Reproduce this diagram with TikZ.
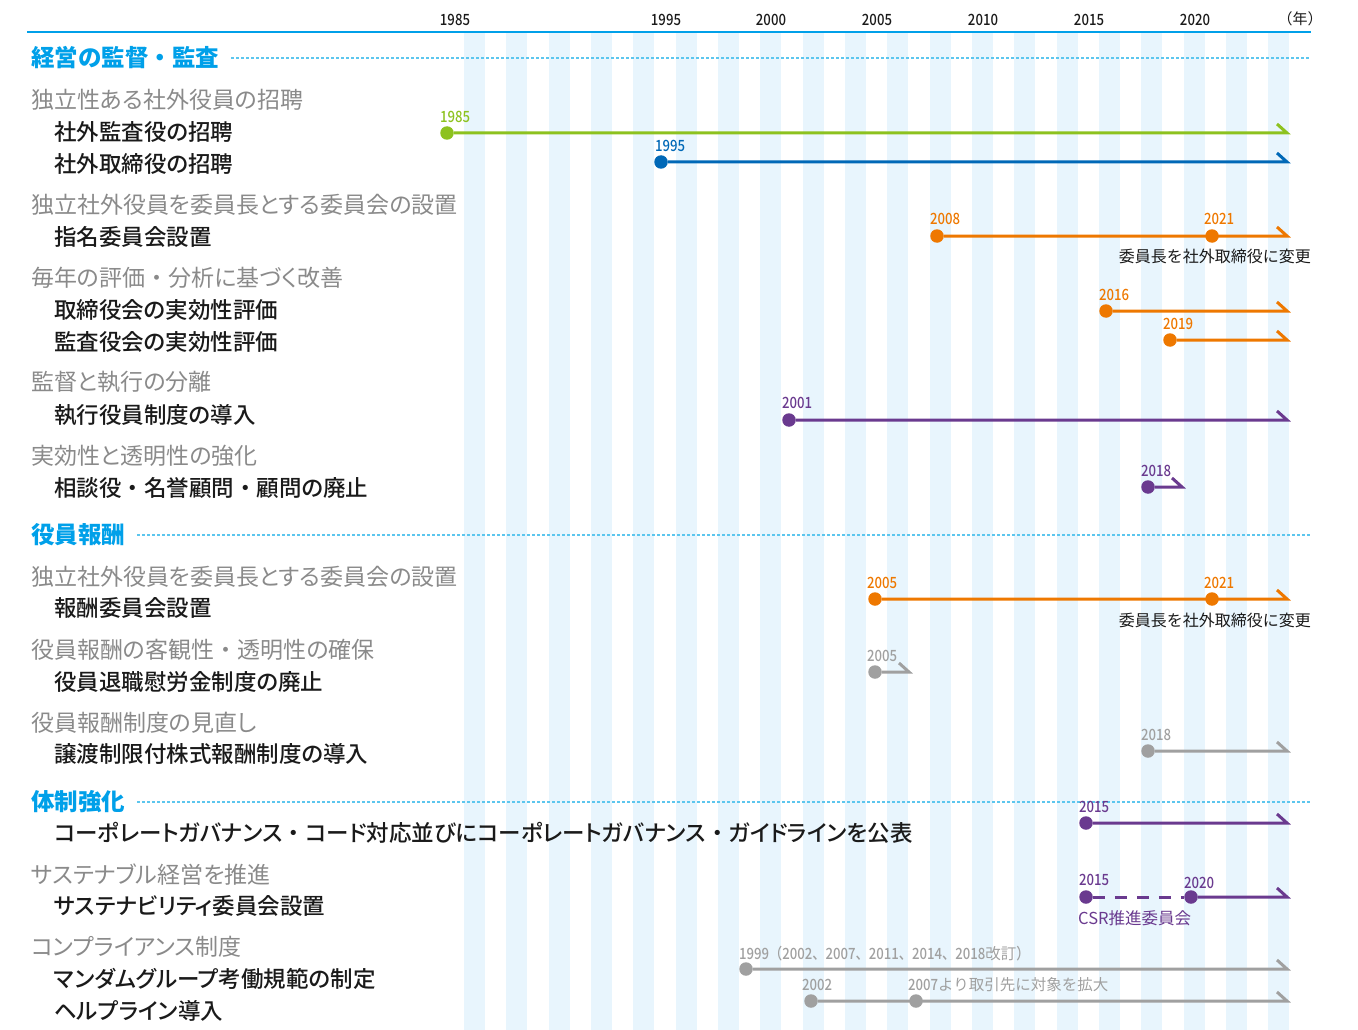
\documentclass[tikz,border=0pt]{standalone}
\usepackage{fontspec}
\setmainfont{Noto Sans CJK JP}
\newfontfamily\numfont[FakeStretch=0.85]{Noto Sans CJK JP Medium}
\newfontfamily\medfont[RawFeature=+palt]{Noto Sans CJK JP Medium}
\newfontfamily\medfull{Noto Sans CJK JP Medium}
\newfontfamily\catfont[RawFeature=+palt]{Noto Sans CJK JP}
\newfontfamily\catfull{Noto Sans CJK JP}
\newcommand\imid{{\medfull ・}}
\newcommand\gmid{{\catfull ・}}
\definecolor{axisblue}{HTML}{00A0E9}
\definecolor{secdot}{HTML}{5CC6EE}
\definecolor{stripe}{HTML}{E8F5FD}
\definecolor{catgray}{HTML}{8A8A8A}
\definecolor{itemblack}{HTML}{1A1A1A}
\definecolor{tlgreen}{HTML}{8DC21F}
\definecolor{tlblue}{HTML}{0068B7}
\definecolor{tlorange}{HTML}{EE7800}
\definecolor{tlpurple}{HTML}{6A3A8F}
\definecolor{tlgray}{HTML}{A0A0A0}
\begin{document}
\begin{tikzpicture}[x=1pt,y=-1pt,
  tl/.style={line width=3pt, line join=miter, line cap=butt, draw=#1},
  dot/.style={circle, fill=#1, minimum size=13.5pt, inner sep=0pt, draw=none},
  yl/.style={font=\numfont\fontsize{15.5}{15.5}\selectfont, anchor=west, inner sep=0pt, text=#1},
  axlab/.style={font=\numfont\fontsize{15.5}{15.5}\selectfont, inner sep=0pt, text=itemblack},
  cat/.style={anchor=west, inner sep=0pt, text=catgray, font=\catfont\fontsize{23}{23}\selectfont},
  item/.style={anchor=west, inner sep=0pt, text=itemblack, font=\medfont\fontsize{22.5}{22.5}\selectfont},
  head/.style={anchor=west, inner sep=0pt, text=axisblue, font=\bfseries\fontsize{23.5}{23.5}\selectfont},
  note/.style={inner sep=0pt, text=itemblack, font=\fontsize{16}{16}\selectfont},
  secline/.style={draw=secdot, line width=1.5pt, dash pattern=on 2.5pt off 2.5pt}
]
\useasboundingbox (0,0) rectangle (1358,1030);
% stripes
\foreach \k in {0,...,19} \fill[stripe] ({464+\k*42.33},33) rectangle ++(21,997);
% axis
\coordinate (axL) at (27,32);
\coordinate (axR) at (1311,32);
\draw[axisblue, line width=2.5pt] (axL) -- (axR);
\node[axlab] (a1985) at (455,20) {1985};
\node[axlab] (a1995) at (666,20) {1995};
\node[axlab] (a2000) at (771,20) {2000};
\node[axlab] (a2005) at (877,20) {2005};
\node[axlab] (a2010) at (983,20) {2010};
\node[axlab] (a2015) at (1089,20) {2015};
\node[axlab] (a2020) at (1195,20) {2020};
\node[note, font=\fontsize{15}{15}\selectfont] (anen) at (1300,19) {（年）};

% ===== section 1
\node[head] (h1) at (31,58) {経営の監督・監査};
\coordinate (h1e) at (1311,58);
\draw[secline] ([xshift=12pt]h1.east) -- (h1e);

\node[cat] (c11) at (31,100) {独立性ある社外役員の招聘};
\node[item] (i111) at (54,132) {社外監査役の招聘};
\node[item] (i112) at (54,164) {社外取締役の招聘};
\node[cat] (c12) at (31,205) {独立社外役員を委員長とする委員会の設置};
\node[item] (i121) at (54,237) {指名委員会設置};
\node[cat] (c13) at (31,278) {毎年の評価\gmid 分析に基づく改善};
\node[item] (i131) at (54,310) {取締役会の実効性評価};
\node[item] (i132) at (54,342) {監査役会の実効性評価};
\node[cat] (c14) at (31,382) {監督と執行の分離};
\node[item] (i141) at (54,415) {執行役員制度の導入};
\node[cat] (c15) at (31,456) {実効性と透明性の強化};
\node[item] (i151) at (54,488) {相談役\imid 名誉顧問\imid 顧問の廃止};

% timelines section 1
\node[dot=tlgreen] (d1) at (447,133) {};
\coordinate (e1) at (1287,133);
\draw[tl=tlgreen] (d1) -- (e1) -- ++(-10,-9);
\node[yl=tlgreen] (l1) at (440,117) {1985};

\node[dot=tlblue] (d2) at (661,162) {};
\coordinate (e2) at (1287,162);
\draw[tl=tlblue] (d2) -- (e2) -- ++(-10,-9);
\node[yl=tlblue] (l2) at (655,146) {1995};

\node[dot=tlorange] (d3) at (937,236) {};
\coordinate (e3) at (1287,236);
\draw[tl=tlorange] (d3) -- (e3) -- ++(-10,-9);
\node[dot=tlorange] (d3b) at (1212,236) {};
\node[yl=tlorange] (l3) at (930,219) {2008};
\node[yl=tlorange] (l3b) at (1204,219) {2021};
\node[note, anchor=east] (n3) at (1311,256) {委員長を社外取締役に変更};

\node[dot=tlorange] (d4) at (1106,311) {};
\coordinate (e4) at (1287,311);
\draw[tl=tlorange] (d4) -- (e4) -- ++(-10,-9);
\node[yl=tlorange] (l4) at (1099,295) {2016};

\node[dot=tlorange] (d5) at (1170,340) {};
\coordinate (e5) at (1287,340);
\draw[tl=tlorange] (d5) -- (e5) -- ++(-10,-9);
\node[yl=tlorange] (l5) at (1163,324) {2019};

\node[dot=tlpurple] (d6) at (789,420) {};
\coordinate (e6) at (1287,420);
\draw[tl=tlpurple] (d6) -- (e6) -- ++(-10,-9);
\node[yl=tlpurple] (l6) at (782,403) {2001};

\node[dot=tlpurple] (d7) at (1148,487) {};
\coordinate (e7) at (1182,487);
\draw[tl=tlpurple] (d7) -- (e7) -- ++(-10,-9);
\node[yl=tlpurple] (l7) at (1141,471) {2018};

% ===== section 2
\node[head] (h2) at (31,535) {役員報酬};
\coordinate (h2e) at (1311,535);
\draw[secline] ([xshift=12pt]h2.east) -- (h2e);

\node[cat] (c21) at (31,577) {独立社外役員を委員長とする委員会の設置};
\node[item] (i211) at (54,608) {報酬委員会設置};
\node[cat] (c22) at (31,650) {役員報酬の客観性\gmid 透明性の確保};
\node[item] (i221) at (54,682) {役員退職慰労金制度の廃止};
\node[cat] (c23) at (31,723) {役員報酬制度の見直し};
\node[item] (i231) at (54,754) {譲渡制限付株式報酬制度の導入};

\node[dot=tlorange] (d8) at (875,599) {};
\coordinate (e8) at (1287,599);
\draw[tl=tlorange] (d8) -- (e8) -- ++(-10,-9);
\node[dot=tlorange] (d8b) at (1212,599) {};
\node[yl=tlorange] (l8) at (867,583) {2005};
\node[yl=tlorange] (l8b) at (1204,583) {2021};
\node[note, anchor=east] (n8) at (1311,620) {委員長を社外取締役に変更};

\node[dot=tlgray] (d9) at (875,672) {};
\coordinate (e9) at (909,672);
\draw[tl=tlgray] (d9) -- (e9) -- ++(-10,-9);
\node[yl=tlgray] (l9) at (867,656) {2005};

\node[dot=tlgray] (d10) at (1148,751) {};
\coordinate (e10) at (1287,751);
\draw[tl=tlgray] (d10) -- (e10) -- ++(-10,-9);
\node[yl=tlgray] (l10) at (1141,735) {2018};

% ===== section 3
\node[head] (h3) at (31,802) {体制強化};
\coordinate (h3e) at (1311,802);
\draw[secline] ([xshift=12pt]h3.east) -- (h3e);

\node[item] (i301) at (54,833) {コーポレートガバナンス\imid コード対応並びにコーポレートガバナンス\imid ガイドラインを公表};
\node[cat] (c31) at (31,875) {サステナブル経営を推進};
\node[item] (i311) at (54,906) {サステナビリティ委員会設置};
\node[cat] (c32) at (31,947) {コンプライアンス制度};
\node[item] (i321) at (54,979) {マンダムグループ考働規範の制定};
\node[item] (i322) at (54,1011) {ヘルプライン導入};

\node[dot=tlpurple] (d11) at (1086,823) {};
\coordinate (e11) at (1287,823);
\draw[tl=tlpurple] (d11) -- (e11) -- ++(-10,-9);
\node[yl=tlpurple] (l11) at (1079,807) {2015};

\node[dot=tlpurple] (d12) at (1086,897) {};
\node[dot=tlpurple] (d12b) at (1191,897) {};
\coordinate (e12) at (1287,897);
\draw[tl=tlpurple, dash pattern=on 12pt off 10pt] (d12) -- (d12b);
\draw[tl=tlpurple] (d12b) -- (e12) -- ++(-10,-9);
\node[yl=tlpurple] (l12) at (1079,880) {2015};
\node[yl=tlpurple] (l12b) at (1184,883) {2020};
\node[note, anchor=west, text=tlpurple, font=\fontsize{16.5}{16.5}\selectfont] (n12) at (1078,918) {CSR推進委員会};

\node[dot=tlgray] (d13) at (746,969) {};
\coordinate (e13) at (1287,969);
\draw[tl=tlgray] (d13) -- (e13) -- ++(-10,-9);
\node[yl=tlgray] (l13) at (739,954) {1999（2002、2007、2011、2014、2018{\fontsize{15.5}{15.5}\selectfont\rmfamily 改訂}）};

\node[dot=tlgray] (d14) at (811,1001) {};
\coordinate (e14) at (1287,1001);
\draw[tl=tlgray] (d14) -- (e14) -- ++(-10,-9);
\node[dot=tlgray] (d14b) at (916,1001) {};
\node[yl=tlgray] (l14) at (802,985) {2002};
\node[yl=tlgray] (l14b) at (908,985) {2007{\fontsize{15.5}{15.5}\selectfont\rmfamily より取引先に対象を拡大}};
\end{tikzpicture}
\end{document}
